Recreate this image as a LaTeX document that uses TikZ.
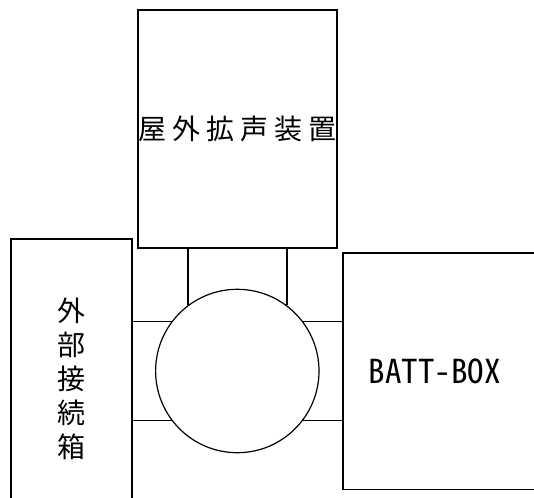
\documentclass[tikz,border=0pt]{standalone}
\usepackage{fontspec}
\newfontfamily\jpfont{Noto Sans CJK JP}
\newfontfamily\jpwide[LetterSpace=22]{Noto Sans CJK JP}
\newfontfamily\battfont{Noto Sans Mono CJK JP}
\usetikzlibrary{positioning}

\begin{document}
\begin{tikzpicture}[x=1pt,y=-1pt,
  unitbox/.style={draw,line width=1.6pt,inner sep=0pt},
  wire/.style={line width=1.6pt}]
  \useasboundingbox (0,0) rectangle (534,497);
  \node[unitbox,minimum width=199pt,minimum height=238pt,
    font=\jpwide\fontsize{28}{34}\selectfont] (speaker) at (237.5,129) {屋外拡声装置};
  \node[unitbox,minimum width=121pt,minimum height=280pt,align=center,
    font=\jpfont\fontsize{28}{34}\selectfont] (extbox) at (71.5,379) {外\\部\\接\\続\\箱};
  \node[unitbox,minimum width=217pt,minimum height=236.6pt] (batt) at (451.5,371) {};
  \node[inner sep=0pt,font=\battfont\fontsize{33}{40}\selectfont] (battlabel) at (434.5,371) {BATT-BOX};
  \node[draw,circle,line width=1.2pt,minimum size=163.4pt,inner sep=0pt] (hub) at (237.3,371) {};
  \draw[wire] (hub.127) -- (hub.127 |- speaker.south);
  \draw[wire] (hub.53) -- (hub.53 |- speaker.south);
  \draw[wire] (hub.143) -- (hub.143 -| extbox.east);
  \draw[wire] (hub.217) -- (hub.217 -| extbox.east);
  \draw[wire] (hub.37) -- (hub.37 -| batt.west);
  \draw[wire] (hub.323) -- (hub.323 -| batt.west);
\end{tikzpicture}
\end{document}
